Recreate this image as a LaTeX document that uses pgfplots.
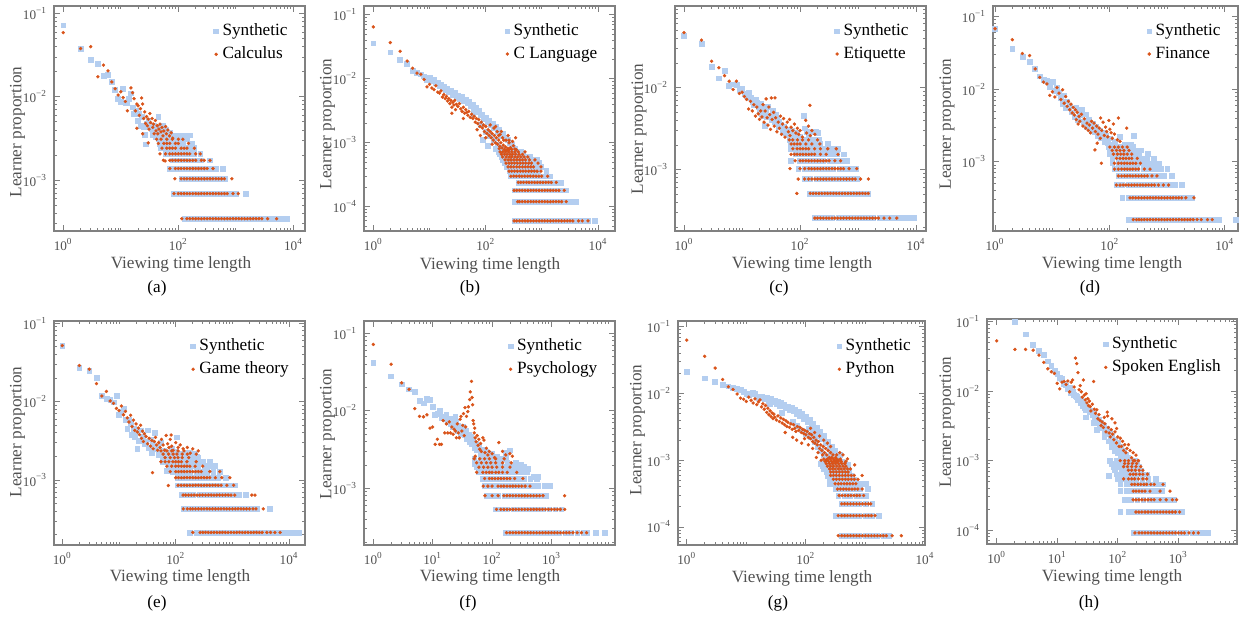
\documentclass[border=0pt]{standalone}
\usepackage{pgfplots}
\pgfplotsset{compat=1.18}
\usepackage{fontspec}
\setmainfont{Liberation Serif}
\definecolor{synblue}{RGB}{180,206,240}
\definecolor{realor}{RGB}{217,83,25}
\definecolor{labgray}{RGB}{80,80,80}
\newcommand{\tp}[1]{10\textsuperscript{#1}}
\newcommand{\tm}[1]{10\textsuperscript{−#1}}
\newcommand{\lf}{\fontsize{8.6}{10}\selectfont}
\pgfplotsset{scale only axis,
    axis line style={draw=black!50, line width=0.6pt},
    tick align=inside, tick style={black!50, line width=0.45pt},
    major tick length=3pt, minor tick length=1.5pt,
    tick label style={font=\fontsize{6.6}{7}\selectfont, text=labgray},
    minor xtick={2,3,4,5,6,7,8,9,10,20,30,40,50,60,70,80,90,200,300,400,500,600,700,800,900,1000,2000,3000,4000,5000,6000,7000,8000,9000},
    minor ytick={2e-5,3e-5,4e-5,5e-5,6e-5,7e-5,8e-5,9e-5,2e-4,3e-4,4e-4,5e-4,6e-4,7e-4,8e-4,9e-4,2e-3,3e-3,4e-3,5e-3,6e-3,7e-3,8e-3,9e-3,2e-2,3e-2,4e-2,5e-2,6e-2,7e-2,8e-2,9e-2},
    legend style={draw=none, fill=none, font=\lf, anchor=north east, inner sep=0pt, row sep=0pt},
    legend cell align=left,
    legend image post style={xshift=-3pt},
    syn/.style={only marks, mark=square*, color=synblue, mark size=1.2pt, mark options={line width=0.3pt}},
    realpts/.style={only marks, mark=*, color=realor, mark size=0.75pt, mark options={line width=0.2pt}},
}
\begin{document}
\begin{tikzpicture}[x=0.5pt, y=-0.5pt]
\path[use as bounding box] (0,0) rectangle (1242,619);
%% (a)
\begin{axis}[xmode=log, ymode=log, anchor=north west, at={(27pt,-3pt)}, width=125.5pt, height=112.5pt,
  xmin=0.692, xmax=15849, ymin=2.455e-4, ymax=0.123,
  xtick={1,100,10000}, xticklabels={\tp{0},\tp{2},\tp{4}},
  ytick={1e-3,1e-2,1e-1}, yticklabels={\tm{3},\tm{2},\tm{1}},
  legend style={at={(0.948,0.94)}}]
\addplot[syn] coordinates {(1,0.072)(2,0.038)(3,0.028)(4,0.025)(5,0.018)(6,0.0185)(7,0.015)(8,0.0122)(9,0.0095)(10,0.0088)(11,0.0125)(12,0.0085)(13,0.0085)(14,0.0095)(15,0.011)(16,0.0075)(17,0.0062)(18,0.0068)(20,0.0052)(21,0.0062)(22,0.0045)(23,0.0058)(25,0.0043)(26,0.0035)(27,0.0027)(28,0.0048)(30,0.0052)(32,0.0043)(34,0.0041)(36,0.0035)(38,0.0045)(40,0.0033)(42,0.0038)(45,0.0058)(48,0.0043)(52,0.0037)(55,0.0045)(58,0.0033)(62,0.004)(65,0.0035)(70,0.0037)(75,0.0031)
(130,3.45e-4)(158,3.45e-4)(200,3.45e-4)(251,3.45e-4)(316,3.45e-4)(398,3.45e-4)(501,3.45e-4)(631,3.45e-4)(794,3.45e-4)(1000,3.45e-4)(1259,3.45e-4)(1585,3.45e-4)(1995,3.45e-4)(2512,3.45e-4)(3162,3.45e-4)(3981,3.45e-4)(5012,3.45e-4)(6310,3.45e-4)(7600,3.45e-4)
(82,6.9e-4)(100,6.9e-4)(126,6.9e-4)(158,6.9e-4)(200,6.9e-4)(251,6.9e-4)(316,6.9e-4)(398,6.9e-4)(501,6.9e-4)(631,6.9e-4)(794,6.9e-4)(1000,6.9e-4)(1500,6.9e-4)
(115,1.04e-3)(141,1.04e-3)(178,1.04e-3)(224,1.04e-3)(282,1.04e-3)(355,1.04e-3)(447,1.04e-3)(562,1.04e-3)(650,1.04e-3)
(71,1.38e-3)(89,1.38e-3)(112,1.38e-3)(141,1.38e-3)(178,1.38e-3)(224,1.38e-3)(282,1.38e-3)(355,1.38e-3)(447,1.38e-3)(590,1.38e-3)
(80,1.73e-3)(100,1.73e-3)(126,1.73e-3)(158,1.73e-3)(200,1.73e-3)(251,1.73e-3)(355,1.73e-3)
(60,2.07e-3)(75,2.07e-3)(95,2.07e-3)(120,2.07e-3)(150,2.07e-3)(190,2.07e-3)(240,2.07e-3)
(50,2.42e-3)(63,2.42e-3)(80,2.42e-3)(100,2.42e-3)(126,2.42e-3)(160,2.42e-3)(190,2.42e-3)
(48,2.76e-3)(60,2.76e-3)(75,2.76e-3)(95,2.76e-3)(120,2.76e-3)(170,2.76e-3)
(45,3.1e-3)(57,3.1e-3)(72,3.1e-3)(90,3.1e-3)(115,3.1e-3)(140,3.1e-3)
(50,3.45e-3)(63,3.45e-3)(80,3.45e-3)(100,3.45e-3)(126,3.45e-3)(158,3.45e-3)};
\addlegendentry{Synthetic}
\addplot[realpts] coordinates {(1,0.059)(2,0.038)(3,0.040)(4,0.0174)(5,0.024)(6,0.0205)(7,0.0151)(8,0.0125)(9,0.0105)(10,0.0115)(11,0.0098)(12,0.0088)(13,0.0068)(15,0.0128)(16,0.0112)(17,0.0095)(18,0.0068)(19,0.0082)(20,0.0078)(21,0.006)(22,0.0072)(23,0.0097)(24,0.0082)(25,0.0055)(26,0.0066)(27,0.0048)(28,0.0058)(29,0.0045)(30,0.0054)(31,0.0041)(32,0.0063)(33,0.0049)(35,0.0055)(36,0.0043)(37,0.0047)(38,0.0036)(40,0.0052)(41,0.0039)(43,0.0045)(44,0.0036)(46,0.0041)(48,0.0047)(50,0.0038)(52,0.0043)(54,0.0034)(56,0.0039)(60,0.0044)(62,0.0036)(66,0.0040)(70,0.0034)(75,0.0037)(80,0.0032)(59,0.0017)(19,0.0042)(24,0.0036)(30,0.0028)
(115,3.45e-4)(141,3.45e-4)(158,3.45e-4)(178,3.45e-4)(200,3.45e-4)(224,3.45e-4)(251,3.45e-4)(282,3.45e-4)(316,3.45e-4)(355,3.45e-4)(398,3.45e-4)(447,3.45e-4)(501,3.45e-4)(562,3.45e-4)(631,3.45e-4)(708,3.45e-4)(794,3.45e-4)(891,3.45e-4)(1000,3.45e-4)(1122,3.45e-4)(1259,3.45e-4)(1413,3.45e-4)(1585,3.45e-4)(1778,3.45e-4)(1995,3.45e-4)(2239,3.45e-4)(2512,3.45e-4)(2818,3.45e-4)(3548,3.45e-4)(5100,3.45e-4)
(84,6.9e-4)(100,6.9e-4)(112,6.9e-4)(126,6.9e-4)(141,6.9e-4)(158,6.9e-4)(178,6.9e-4)(200,6.9e-4)(224,6.9e-4)(251,6.9e-4)(282,6.9e-4)(316,6.9e-4)(355,6.9e-4)(398,6.9e-4)(447,6.9e-4)(501,6.9e-4)(562,6.9e-4)(631,6.9e-4)(708,6.9e-4)(891,6.9e-4)(1100,6.9e-4)
(87,1.04e-3)(112,1.04e-3)(126,1.04e-3)(141,1.04e-3)(158,1.04e-3)(178,1.04e-3)(200,1.04e-3)(224,1.04e-3)(251,1.04e-3)(282,1.04e-3)(316,1.04e-3)(355,1.04e-3)(398,1.04e-3)(447,1.04e-3)(501,1.04e-3)(562,1.04e-3)(631,1.04e-3)(850,1.04e-3)
(71,1.38e-3)(89,1.38e-3)(100,1.38e-3)(112,1.38e-3)(126,1.38e-3)(141,1.38e-3)(158,1.38e-3)(178,1.38e-3)(200,1.38e-3)(224,1.38e-3)(251,1.38e-3)(282,1.38e-3)(316,1.38e-3)(400,1.38e-3)
(55,1.73e-3)(71,1.73e-3)(79,1.73e-3)(89,1.73e-3)(100,1.73e-3)(112,1.73e-3)(126,1.73e-3)(141,1.73e-3)(158,1.73e-3)(178,1.73e-3)(200,1.73e-3)(251,1.73e-3)(282,1.73e-3)(355,1.73e-3)
(48,2.07e-3)(60,2.07e-3)(71,2.07e-3)(79,2.07e-3)(89,2.07e-3)(100,2.07e-3)(112,2.07e-3)(126,2.07e-3)(141,2.07e-3)(158,2.07e-3)(200,2.07e-3)(240,2.07e-3)
(52,2.42e-3)(63,2.42e-3)(71,2.42e-3)(79,2.42e-3)(89,2.42e-3)(112,2.42e-3)(126,2.42e-3)(141,2.42e-3)(190,2.42e-3)
(45,2.76e-3)(56,2.76e-3)(63,2.76e-3)(71,2.76e-3)(89,2.76e-3)(100,2.76e-3)(150,2.76e-3)
(42,3.1e-3)(50,3.1e-3)(63,3.1e-3)(79,3.1e-3)(100,3.1e-3)(120,3.1e-3)};
\addlegendentry{Calculus}
\end{axis}
%% (b)
\begin{axis}[xmode=log, ymode=log, anchor=north west, at={(182pt,-3pt)}, width=125.5pt, height=112.5pt,
  xmin=0.682, xmax=19953, ymin=4.17e-5, ymax=0.138,
  xtick={1,100,10000}, xticklabels={\tp{0},\tp{2},\tp{4}},
  ytick={1e-4,1e-3,1e-2,1e-1}, yticklabels={\tm{4},\tm{3},\tm{2},\tm{1}},
  legend style={at={(0.947,0.94)}}]
\addplot[syn] coordinates {(1,0.036)(2,0.026)(3,0.020)(4,0.017)(5,0.0135)(6,0.0125)(7,0.0118)(8,0.011)(9,0.0098)(10,0.0105)(11,0.0092)(12,0.0097)(13,0.0085)(14,0.0088)(15,0.0079)(16,0.0082)(17,0.0073)(18,0.0076)(19,0.0068)(20,0.0071)(22,0.0063)(24,0.0066)(26,0.0056)(28,0.0060)(30,0.0052)(32,0.0055)(35,0.0049)(38,0.0052)(41,0.0045)(44,0.0048)(47,0.0042)(50,0.0044)(54,0.0038)(58,0.0040)(62,0.0034)(66,0.0036)(71,0.0030)(76,0.0032)(81,0.0027)(87,0.0028)(93,0.0024)(100,0.0025)(107,0.0021)(115,0.0022)(123,0.0019)(132,0.0020)(141,0.0017)(151,0.0018)(162,0.0015)(174,0.0016)(186,0.0013)(200,0.0014)(215,0.0012)(230,0.0012)(250,0.0011)(270,0.0010)(290,9.5e-4)(310,8.5e-4)(335,8.0e-4)(360,7.2e-4)(390,6.6e-4)(420,6.0e-4)(100,0.0015)(120,0.0013)(140,0.0011)(160,9.5e-4)(180,8.5e-4)(200,7.8e-4)(230,7.0e-4)(260,6.4e-4)(80,0.0019)(60,0.0028)(90,0.0011)(110,9e-4)(150,8e-4)
(330,6e-5)(420,6e-5)(530,6e-5)(670,6e-5)(840,6e-5)(1060,6e-5)(1330,6e-5)(1680,6e-5)(2110,6e-5)(2660,6e-5)(3350,6e-5)(4220,6e-5)(5310,6e-5)(6690,6e-5)(8700,6e-5)
(330,1.2e-4)(410,1.2e-4)(520,1.2e-4)(650,1.2e-4)(820,1.2e-4)(1030,1.2e-4)(1300,1.2e-4)(1640,1.2e-4)(2060,1.2e-4)(2600,1.2e-4)(3270,1.2e-4)(4100,1.2e-4)
(330,1.8e-4)(420,1.8e-4)(530,1.8e-4)(670,1.8e-4)(840,1.8e-4)(1060,1.8e-4)(1330,1.8e-4)(1680,1.8e-4)(2110,1.8e-4)(2660,1.8e-4)
(380,2.4e-4)(480,2.4e-4)(600,2.4e-4)(760,2.4e-4)(950,2.4e-4)(1200,2.4e-4)(1510,2.4e-4)(1900,2.4e-4)(2200,2.4e-4)
(280,3e-4)(350,3e-4)(440,3e-4)(560,3e-4)(700,3e-4)(880,3e-4)(1110,3e-4)(1400,3e-4)
(270,3.6e-4)(340,3.6e-4)(430,3.6e-4)(540,3.6e-4)(680,3.6e-4)(860,3.6e-4)(1200,3.6e-4)
(240,4.2e-4)(300,4.2e-4)(380,4.2e-4)(480,4.2e-4)(600,4.2e-4)(760,4.2e-4)(960,4.2e-4)
(220,4.8e-4)(280,4.8e-4)(350,4.8e-4)(440,4.8e-4)(560,4.8e-4)(700,4.8e-4)(900,4.8e-4)
(200,5.4e-4)(250,5.4e-4)(320,5.4e-4)(400,5.4e-4)(500,5.4e-4)(640,5.4e-4)(800,5.4e-4)
(190,6e-4)(240,6e-4)(300,6e-4)(380,6e-4)(480,6e-4)(600,6e-4)
(180,6.6e-4)(230,6.6e-4)(290,6.6e-4)(360,6.6e-4)(450,6.6e-4)
(170,7.2e-4)(215,7.2e-4)(270,7.2e-4)(340,7.2e-4)(430,7.2e-4)};
\addlegendentry{Synthetic}
\addplot[realpts] coordinates {(1,0.065)(2,0.037)(3,0.027)(4,0.019)(5,0.0147)(6,0.0123)(7,0.0118)(8,0.0098)(9,0.0075)(10,0.0082)(11,0.0072)(12,0.0068)(13,0.0078)(14,0.0062)(15,0.0060)(16,0.0065)(17,0.0052)(18,0.0057)(19,0.0049)(20,0.0053)(21,0.0045)(22,0.0049)(23,0.0041)(24,0.0046)(25,0.0036)(26,0.0043)(27,0.0039)(28,0.0046)(29,0.0033)(30,0.0040)(32,0.0037)(34,0.0041)(36,0.0034)(38,0.0031)(40,0.0036)(42,0.0029)(44,0.0033)(46,0.0030)(48,0.0027)(50,0.0031)(53,0.0025)(56,0.0028)(59,0.0024)(62,0.0026)(65,0.0021)(68,0.0024)(72,0.0020)(75,0.0023)(79,0.0018)(83,0.0021)(87,0.0017)(91,0.0019)(95,0.0015)(100,0.0018)(105,0.0014)(110,0.0016)(115,0.0013)(120,0.0015)(125,0.0012)(130,0.0014)(136,0.0011)(142,0.0013)(148,0.0010)(155,0.0012)(162,9.5e-4)(170,1.1e-3)(178,8.8e-4)(186,1.0e-3)(195,8.3e-4)(205,9.2e-4)(215,7.8e-4)(225,8.6e-4)(236,7.6e-4)(248,8.2e-4)(260,7.8e-4)(275,8.4e-4)(290,7.9e-4)(310,9.0e-4)(330,8.0e-4)(350,7.8e-4)(120,1.9e-3)(140,1.7e-3)(160,1.5e-3)(180,1.35e-3)(200,1.2e-3)(230,1.1e-3)(260,1.0e-3)(300,1.05e-3)(340,1.2e-3)(80,0.0013)(130,9.5e-4)(100,0.0012)(70,0.0016)(25,0.0029)(40,0.0024)(150,1.8e-3)(190,1.5e-3)(250,1.3e-3)(210,1.1e-3)(170,1.3e-3)(174,8.1e-4)(260,1.1e-3)
(320,6e-5)(355,6e-5)(398,6e-5)(447,6e-5)(501,6e-5)(562,6e-5)(631,6e-5)(708,6e-5)(794,6e-5)(891,6e-5)(1000,6e-5)(1122,6e-5)(1259,6e-5)(1413,6e-5)(1585,6e-5)(1778,6e-5)(1995,6e-5)(2239,6e-5)(2512,6e-5)(2818,6e-5)(3162,6e-5)(3548,6e-5)(4467,6e-5)(5200,6e-5)(6600,6e-5)
(370,1.2e-4)(398,1.2e-4)(447,1.2e-4)(501,1.2e-4)(562,1.2e-4)(631,1.2e-4)(708,1.2e-4)(794,1.2e-4)(891,1.2e-4)(1000,1.2e-4)(1122,1.2e-4)(1259,1.2e-4)(1413,1.2e-4)(1585,1.2e-4)(1778,1.2e-4)(1995,1.2e-4)(2239,1.2e-4)(2700,1.2e-4)
(320,1.8e-4)(355,1.8e-4)(398,1.8e-4)(447,1.8e-4)(501,1.8e-4)(562,1.8e-4)(631,1.8e-4)(708,1.8e-4)(794,1.8e-4)(891,1.8e-4)(1000,1.8e-4)(1122,1.8e-4)(1259,1.8e-4)(1413,1.8e-4)(1585,1.8e-4)(1778,1.8e-4)(2000,1.8e-4)(2500,1.8e-4)
(380,2.4e-4)(420,2.4e-4)(470,2.4e-4)(530,2.4e-4)(590,2.4e-4)(660,2.4e-4)(740,2.4e-4)(830,2.4e-4)(930,2.4e-4)(1040,2.4e-4)(1170,2.4e-4)(1310,2.4e-4)(1470,2.4e-4)(1800,2.4e-4)
(280,3e-4)(315,3e-4)(350,3e-4)(395,3e-4)(440,3e-4)(495,3e-4)(555,3e-4)(620,3e-4)(700,3e-4)(785,3e-4)(880,3e-4)(990,3e-4)(1260,3e-4)
(260,3.6e-4)(290,3.6e-4)(325,3.6e-4)(365,3.6e-4)(410,3.6e-4)(460,3.6e-4)(515,3.6e-4)(580,3.6e-4)(650,3.6e-4)(730,3.6e-4)(820,3.6e-4)(960,3.6e-4)
(250,4.2e-4)(280,4.2e-4)(315,4.2e-4)(355,4.2e-4)(400,4.2e-4)(450,4.2e-4)(505,4.2e-4)(565,4.2e-4)(635,4.2e-4)(710,4.2e-4)(960,4.2e-4)
(230,4.8e-4)(260,4.8e-4)(290,4.8e-4)(325,4.8e-4)(365,4.8e-4)(410,4.8e-4)(460,4.8e-4)(515,4.8e-4)(580,4.8e-4)(650,4.8e-4)(850,4.8e-4)
(220,5.4e-4)(250,5.4e-4)(280,5.4e-4)(315,5.4e-4)(355,5.4e-4)(400,5.4e-4)(450,5.4e-4)(510,5.4e-4)(600,5.4e-4)(750,5.4e-4)
(200,6e-4)(230,6e-4)(260,6e-4)(290,6e-4)(330,6e-4)(370,6e-4)(420,6e-4)(480,6e-4)(560,6e-4)
(190,6.6e-4)(215,6.6e-4)(240,6.6e-4)(270,6.6e-4)(300,6.6e-4)(340,6.6e-4)(390,6.6e-4)(450,6.6e-4)
(180,7.2e-4)(200,7.2e-4)(225,7.2e-4)(255,7.2e-4)(290,7.2e-4)(330,7.2e-4)(380,7.2e-4)(500,7.2e-4)};
\addlegendentry{C Language}
\end{axis}
%% (c)
\begin{axis}[xmode=log, ymode=log, anchor=north west, at={(337.5pt,-3pt)}, width=125.5pt, height=112.5pt,
  xmin=0.70, xmax=14791, ymin=1.79e-4, ymax=0.099,
  xtick={1,100,10000}, xticklabels={\tp{0},\tp{2},\tp{4}},
  ytick={1e-3,1e-2}, yticklabels={\tm{3},\tm{2}},
  legend style={at={(0.948,0.94)}}]
\addplot[syn] coordinates {(1,0.043)(2,0.034)(3,0.018)(4,0.013)(5,0.016)(6,0.0105)(7,0.011)(8,0.0108)(9,0.0095)(10,0.0098)(11,0.0085)(12,0.008)(13,0.0088)(14,0.0075)(15,0.0068)(16,0.0062)(17,0.0072)(18,0.0065)(19,0.0058)(20,0.0052)(21,0.0064)(22,0.0048)(23,0.0057)(24,0.0045)(25,0.0034)(26,0.0052)(27,0.0044)(28,0.0059)(30,0.0046)(32,0.0041)(34,0.0052)(36,0.0038)(38,0.0047)(40,0.0042)(42,0.0033)(44,0.0038)(47,0.0035)(50,0.0030)(53,0.0033)(56,0.0028)(60,0.0031)(64,0.0027)(68,0.0024)(72,0.0030)(77,0.0026)(82,0.0023)(88,0.0028)(94,0.0021)(100,0.0025)(108,0.0022)(115,0.0045)(120,0.0032)(130,0.0029)(140,0.0025)(160,0.0029)(185,0.0029)(200,0.0028)
(180,2.57e-4)(225,2.57e-4)(285,2.57e-4)(360,2.57e-4)(455,2.57e-4)(575,2.57e-4)(725,2.57e-4)(915,2.57e-4)(1150,2.57e-4)(1450,2.57e-4)(1830,2.57e-4)(2310,2.57e-4)(2920,2.57e-4)(3680,2.57e-4)(4650,2.57e-4)(5870,2.57e-4)(7400,2.57e-4)(9300,2.57e-4)
(147,5.14e-4)(185,5.14e-4)(235,5.14e-4)(295,5.14e-4)(372,5.14e-4)(470,5.14e-4)(590,5.14e-4)(745,5.14e-4)(940,5.14e-4)(1190,5.14e-4)(1500,5.14e-4)
(120,7.7e-4)(150,7.7e-4)(190,7.7e-4)(240,7.7e-4)(300,7.7e-4)(380,7.7e-4)(480,7.7e-4)(600,7.7e-4)(760,7.7e-4)(960,7.7e-4)
(93,1.03e-3)(118,1.03e-3)(148,1.03e-3)(187,1.03e-3)(236,1.03e-3)(298,1.03e-3)(375,1.03e-3)(473,1.03e-3)(596,1.03e-3)(750,1.03e-3)(900,1.03e-3)
(100,1.285e-3)(126,1.285e-3)(159,1.285e-3)(200,1.285e-3)(252,1.285e-3)(318,1.285e-3)(400,1.285e-3)(505,1.285e-3)(640,1.285e-3)(69,1.285e-3)
(84,1.54e-3)(106,1.54e-3)(133,1.54e-3)(168,1.54e-3)(212,1.54e-3)(267,1.54e-3)(337,1.54e-3)(425,1.54e-3)(560,1.54e-3)
(70,1.8e-3)(88,1.8e-3)(110,1.8e-3)(140,1.8e-3)(176,1.8e-3)(222,1.8e-3)(280,1.8e-3)(350,1.8e-3)(450,1.8e-3)
(70,2.06e-3)(88,2.06e-3)(110,2.06e-3)(140,2.06e-3)(176,2.06e-3)(222,2.06e-3)(300,2.06e-3)
(66,2.31e-3)(84,2.31e-3)(106,2.31e-3)(134,2.31e-3)(170,2.31e-3)(215,2.31e-3)};
\addlegendentry{Synthetic}
\addplot[realpts] coordinates {(1,0.047)(2,0.038)(3,0.021)(4,0.0175)(5,0.014)(6,0.012)(7,0.0095)(8,0.012)(9,0.0085)(10,0.0088)(11,0.0078)(12,0.0072)(13,0.0055)(14,0.0068)(15,0.0052)(16,0.0062)(17,0.0045)(18,0.0058)(19,0.0048)(20,0.0041)(21,0.0052)(22,0.0044)(23,0.0062)(24,0.0038)(25,0.0052)(26,0.0073)(27,0.0043)(28,0.0035)(29,0.0058)(30,0.0047)(31,0.0031)(32,0.0075)(33,0.0041)(35,0.0050)(36,0.0034)(37,0.0075)(38,0.0043)(40,0.0029)(42,0.0038)(44,0.0032)(46,0.0045)(48,0.0027)(50,0.0036)(52,0.0042)(55,0.0025)(58,0.0033)(60,0.0038)(63,0.0029)(66,0.0041)(67,0.0026)(70,0.0033)(75,0.0030)(80,0.0036)(85,0.0028)(90,0.0032)(95,0.0027)(100,0.0030)(110,0.0025)(125,0.0040)(130,0.0028)(140,0.0034)(148,0.0061)(150,0.0026)(160,0.0030)(180,0.0027)
(180,2.57e-4)(200,2.57e-4)(224,2.57e-4)(251,2.57e-4)(282,2.57e-4)(316,2.57e-4)(355,2.57e-4)(398,2.57e-4)(447,2.57e-4)(501,2.57e-4)(562,2.57e-4)(631,2.57e-4)(708,2.57e-4)(794,2.57e-4)(891,2.57e-4)(1000,2.57e-4)(1122,2.57e-4)(1259,2.57e-4)(1413,2.57e-4)(1585,2.57e-4)(1778,2.57e-4)(1995,2.57e-4)(2239,2.57e-4)(2800,2.57e-4)(3500,2.57e-4)(4650,2.57e-4)
(88,5.14e-4)(150,5.14e-4)(168,5.14e-4)(188,5.14e-4)(211,5.14e-4)(237,5.14e-4)(266,5.14e-4)(298,5.14e-4)(335,5.14e-4)(376,5.14e-4)(422,5.14e-4)(473,5.14e-4)(531,5.14e-4)(596,5.14e-4)(668,5.14e-4)(750,5.14e-4)(841,5.14e-4)(944,5.14e-4)(1060,5.14e-4)(1189,5.14e-4)(1334,5.14e-4)(1500,5.14e-4)
(93,7.7e-4)(120,7.7e-4)(140,7.7e-4)(160,7.7e-4)(180,7.7e-4)(200,7.7e-4)(224,7.7e-4)(251,7.7e-4)(282,7.7e-4)(316,7.7e-4)(355,7.7e-4)(398,7.7e-4)(447,7.7e-4)(501,7.7e-4)(562,7.7e-4)(631,7.7e-4)(708,7.7e-4)(794,7.7e-4)(891,7.7e-4)(1100,7.7e-4)(1500,7.7e-4)
(67,1.03e-3)(100,1.03e-3)(120,1.03e-3)(141,1.03e-3)(158,1.03e-3)(178,1.03e-3)(200,1.03e-3)(224,1.03e-3)(251,1.03e-3)(282,1.03e-3)(316,1.03e-3)(355,1.03e-3)(398,1.03e-3)(447,1.03e-3)(501,1.03e-3)(562,1.03e-3)(700,1.03e-3)(950,1.03e-3)
(82,1.285e-3)(100,1.285e-3)(112,1.285e-3)(126,1.285e-3)(141,1.285e-3)(158,1.285e-3)(178,1.285e-3)(200,1.285e-3)(224,1.285e-3)(251,1.285e-3)(282,1.285e-3)(316,1.285e-3)(398,1.285e-3)(500,1.285e-3)
(70,1.54e-3)(80,1.54e-3)(89,1.54e-3)(100,1.54e-3)(112,1.54e-3)(126,1.54e-3)(141,1.54e-3)(158,1.54e-3)(178,1.54e-3)(224,1.54e-3)(282,1.54e-3)(450,1.54e-3)
(75,1.8e-3)(89,1.8e-3)(100,1.8e-3)(112,1.8e-3)(126,1.8e-3)(141,1.8e-3)(178,1.8e-3)(224,1.8e-3)(300,1.8e-3)(420,1.8e-3)
(70,2.06e-3)(79,2.06e-3)(89,2.06e-3)(100,2.06e-3)(126,2.06e-3)(160,2.06e-3)(220,2.06e-3)
(65,2.31e-3)(75,2.31e-3)(90,2.31e-3)(110,2.31e-3)(140,2.31e-3)(200,2.31e-3)};
\addlegendentry{Etiquette}
\end{axis}
%% (d)
\begin{axis}[xmode=log, ymode=log, anchor=north west, at={(496.5pt,-3pt)}, width=122.5pt, height=112.5pt,
  xmin=0.923, xmax=16982, ymin=1.107e-4, ymax=0.140,
  xtick={1,100,10000}, xticklabels={\tp{0},\tp{2},\tp{4}},
  ytick={1e-3,1e-2,1e-1}, yticklabels={\tm{3},\tm{2},\tm{1}},
  legend style={at={(0.947,0.94)}}]
\addplot[syn] coordinates {(1,0.068)(2,0.036)(3,0.028)(4,0.024)(5,0.019)(6,0.015)(7,0.0135)(8,0.013)(9,0.0108)(10,0.0125)(11,0.0095)(12,0.0105)(13,0.0088)(14,0.0075)(15,0.0062)(16,0.0082)(17,0.0055)(18,0.0068)(20,0.0058)(22,0.0048)(24,0.0041)(26,0.0055)(28,0.0038)(30,0.0044)(32,0.0052)(35,0.0035)(38,0.0045)(40,0.0030)(43,0.0038)(46,0.0028)(50,0.0033)(54,0.0026)(58,0.0030)(62,0.0023)(66,0.0027)(70,0.0021)(75,0.0025)(80,0.0019)(86,0.0023)(92,0.0018)(100,0.0021)(110,0.0017)(120,0.0019)(150,0.0022)(180,0.0017)(200,0.0015)(230,0.0017)(260,0.0023)(290,0.0013)(330,0.0011)
(215,1.59e-4)(270,1.59e-4)(340,1.59e-4)(430,1.59e-4)(540,1.59e-4)(680,1.59e-4)(860,1.59e-4)(1080,1.59e-4)(1360,1.59e-4)(1710,1.59e-4)(2160,1.59e-4)(2720,1.59e-4)(3420,1.59e-4)(4310,1.59e-4)(5430,1.59e-4)(6840,1.59e-4)(8000,1.59e-4)(15600,1.59e-4)
(165,3.17e-4)(210,3.17e-4)(265,3.17e-4)(335,3.17e-4)(420,3.17e-4)(530,3.17e-4)(670,3.17e-4)(840,3.17e-4)(1060,3.17e-4)(1340,3.17e-4)(1680,3.17e-4)(2120,3.17e-4)(2700,3.17e-4)
(130,4.76e-4)(165,4.76e-4)(210,4.76e-4)(265,4.76e-4)(335,4.76e-4)(420,4.76e-4)(530,4.76e-4)(670,4.76e-4)(840,4.76e-4)(1060,4.76e-4)(1340,4.76e-4)(1800,4.76e-4)
(140,6.35e-4)(175,6.35e-4)(220,6.35e-4)(280,6.35e-4)(350,6.35e-4)(440,6.35e-4)(560,6.35e-4)(700,6.35e-4)(880,6.35e-4)(1200,6.35e-4)
(120,7.9e-4)(150,7.9e-4)(190,7.9e-4)(240,7.9e-4)(300,7.9e-4)(380,7.9e-4)(480,7.9e-4)(600,7.9e-4)(760,7.9e-4)(1000,7.9e-4)
(110,9.5e-4)(140,9.5e-4)(175,9.5e-4)(220,9.5e-4)(280,9.5e-4)(350,9.5e-4)(440,9.5e-4)(560,9.5e-4)(700,9.5e-4)
(110,1.11e-3)(140,1.11e-3)(175,1.11e-3)(220,1.11e-3)(280,1.11e-3)(350,1.11e-3)(440,1.11e-3)(580,1.11e-3)
(100,1.27e-3)(126,1.27e-3)(160,1.27e-3)(200,1.27e-3)(250,1.27e-3)(320,1.27e-3)(450,1.27e-3)
(100,1.43e-3)(130,1.43e-3)(165,1.43e-3)(210,1.43e-3)(270,1.43e-3)(340,1.43e-3)
(95,1.59e-3)(120,1.59e-3)(150,1.59e-3)(190,1.59e-3)(250,1.59e-3)};
\addlegendentry{Synthetic}
\addplot[realpts] coordinates {(1,0.068)(2,0.048)(3,0.031)(4,0.029)(5,0.019)(6,0.0145)(7,0.0125)(8,0.0118)(9,0.0082)(10,0.0092)(11,0.0078)(12,0.0105)(13,0.0088)(14,0.0072)(15,0.0098)(16,0.0064)(17,0.0079)(18,0.0058)(19,0.0068)(20,0.0052)(21,0.0062)(22,0.0047)(23,0.0056)(24,0.0044)(25,0.0052)(26,0.0038)(27,0.0048)(28,0.0033)(29,0.0042)(30,0.0036)(32,0.0045)(34,0.0031)(36,0.0039)(38,0.0029)(40,0.0034)(42,0.0027)(44,0.0032)(46,0.0025)(48,0.0036)(50,0.0029)(53,0.0034)(56,0.0026)(59,0.0031)(62,0.0024)(65,0.0029)(68,0.0021)(69,0.0040)(72,0.0027)(76,0.0035)(80,0.0023)(84,0.0030)(88,0.0026)(92,0.0022)(96,0.0037)(100,0.0028)(105,0.0025)(110,0.0021)(115,0.0033)(120,0.0024)(135,0.0020)(140,0.0040)(150,0.0019)(196,0.0029)(55,0.00145)(71,9.5e-4)(60,0.0018)
(256,1.59e-4)(290,1.59e-4)(320,1.59e-4)(355,1.59e-4)(398,1.59e-4)(447,1.59e-4)(501,1.59e-4)(562,1.59e-4)(631,1.59e-4)(708,1.59e-4)(794,1.59e-4)(891,1.59e-4)(1000,1.59e-4)(1122,1.59e-4)(1259,1.59e-4)(1413,1.59e-4)(1585,1.59e-4)(1778,1.59e-4)(1995,1.59e-4)(2239,1.59e-4)(2512,1.59e-4)(2818,1.59e-4)(3300,1.59e-4)(3900,1.59e-4)(5000,1.59e-4)(6040,1.59e-4)
(224,3.17e-4)(251,3.17e-4)(282,3.17e-4)(316,3.17e-4)(355,3.17e-4)(398,3.17e-4)(447,3.17e-4)(501,3.17e-4)(562,3.17e-4)(631,3.17e-4)(708,3.17e-4)(794,3.17e-4)(891,3.17e-4)(1000,3.17e-4)(1122,3.17e-4)(1259,3.17e-4)(1413,3.17e-4)(1585,3.17e-4)(1778,3.17e-4)(2100,3.17e-4)(2900,3.17e-4)
(130,4.76e-4)(150,4.76e-4)(170,4.76e-4)(190,4.76e-4)(212,4.76e-4)(238,4.76e-4)(266,4.76e-4)(298,4.76e-4)(335,4.76e-4)(376,4.76e-4)(422,4.76e-4)(473,4.76e-4)(531,4.76e-4)(596,4.76e-4)(700,4.76e-4)(850,4.76e-4)(1050,4.76e-4)
(140,6.35e-4)(160,6.35e-4)(180,6.35e-4)(200,6.35e-4)(224,6.35e-4)(251,6.35e-4)(282,6.35e-4)(316,6.35e-4)(355,6.35e-4)(398,6.35e-4)(447,6.35e-4)(540,6.35e-4)(660,6.35e-4)
(120,7.9e-4)(140,7.9e-4)(160,7.9e-4)(180,7.9e-4)(200,7.9e-4)(224,7.9e-4)(251,7.9e-4)(282,7.9e-4)(316,7.9e-4)(398,7.9e-4)(500,7.9e-4)
(120,9.5e-4)(140,9.5e-4)(158,9.5e-4)(178,9.5e-4)(200,9.5e-4)(224,9.5e-4)(251,9.5e-4)(282,9.5e-4)(340,9.5e-4)
(130,1.11e-3)(150,1.11e-3)(170,1.11e-3)(190,1.11e-3)(215,1.11e-3)(240,1.11e-3)(300,1.11e-3)
(115,1.27e-3)(135,1.27e-3)(155,1.27e-3)(175,1.27e-3)(200,1.27e-3)(240,1.27e-3)
(110,1.43e-3)(130,1.43e-3)(150,1.43e-3)(175,1.43e-3)(215,1.43e-3)
(100,1.59e-3)(120,1.59e-3)(140,1.59e-3)(165,1.59e-3)(200,1.59e-3)};
\addlegendentry{Finance}
\end{axis}
%% (e)
\begin{axis}[xmode=log, ymode=log, anchor=north west, at={(27pt,-160.5pt)}, width=125.5pt, height=112pt,
  xmin=0.714, xmax=19055, ymin=1.48e-4, ymax=0.107,
  xtick={1,100,10000}, xticklabels={\tp{0},\tp{2},\tp{4}},
  ytick={1e-3,1e-2,1e-1}, yticklabels={\tm{3},\tm{2},\tm{1}},
  legend style={at={(0.953,0.94)}}]
\addplot[syn] coordinates {(1,0.052)(2,0.027)(3,0.025)(4,0.020)(5,0.012)(6,0.011)(7,0.0105)(8,0.0098)(9,0.012)(10,0.0068)(11,0.0075)(12,0.0082)(13,0.0058)(14,0.0045)(15,0.0058)(16,0.0052)(17,0.0038)(18,0.0045)(19,0.0036)(20,0.0041)(21,0.0025)(22,0.0032)(24,0.0043)(26,0.0036)(28,0.0029)(30,0.0031)(32,0.0043)(34,0.0026)(36,0.0033)(38,0.0022)(40,0.0029)(43,0.0040)(46,0.0025)(50,0.0021)(54,0.0030)(58,0.0017)(62,0.0024)(66,0.0019)(70,0.0013)(75,0.0022)(80,0.0018)(86,0.0025)(92,0.0019)(100,0.0023)(105,0.0035)(115,0.0017)(130,0.0020)(150,0.0018)(170,0.0022)(200,0.0017)(240,0.0020)(300,0.0017)(350,0.0013)(450,0.0015)
(180,2.14e-4)(230,2.14e-4)(290,2.14e-4)(365,2.14e-4)(460,2.14e-4)(580,2.14e-4)(730,2.14e-4)(920,2.14e-4)(1160,2.14e-4)(1460,2.14e-4)(1840,2.14e-4)(2320,2.14e-4)(2920,2.14e-4)(3680,2.14e-4)(4630,2.14e-4)(5840,2.14e-4)(7350,2.14e-4)(9260,2.14e-4)(11700,2.14e-4)(14700,2.14e-4)
(136,4.28e-4)(170,4.28e-4)(215,4.28e-4)(270,4.28e-4)(340,4.28e-4)(430,4.28e-4)(540,4.28e-4)(680,4.28e-4)(860,4.28e-4)(1080,4.28e-4)(1360,4.28e-4)(1720,4.28e-4)(2160,4.28e-4)(2720,4.28e-4)(4600,4.28e-4)
(130,6.42e-4)(165,6.42e-4)(205,6.42e-4)(260,6.42e-4)(330,6.42e-4)(410,6.42e-4)(520,6.42e-4)(650,6.42e-4)(820,6.42e-4)(1030,6.42e-4)(1300,6.42e-4)(1700,6.42e-4)
(110,8.56e-4)(140,8.56e-4)(175,8.56e-4)(220,8.56e-4)(280,8.56e-4)(350,8.56e-4)(440,8.56e-4)(560,8.56e-4)(700,8.56e-4)(880,8.56e-4)(1100,8.56e-4)
(110,1.07e-3)(140,1.07e-3)(175,1.07e-3)(220,1.07e-3)(280,1.07e-3)(350,1.07e-3)(440,1.07e-3)(560,1.07e-3)(760,1.07e-3)
(90,1.28e-3)(115,1.28e-3)(145,1.28e-3)(180,1.28e-3)(230,1.28e-3)(290,1.28e-3)(360,1.28e-3)(460,1.28e-3)(600,1.28e-3)
(80,1.5e-3)(100,1.5e-3)(126,1.5e-3)(160,1.5e-3)(200,1.5e-3)(250,1.5e-3)(320,1.5e-3)(400,1.5e-3)(500,1.5e-3)
(60,1.71e-3)(76,1.71e-3)(96,1.71e-3)(120,1.71e-3)(150,1.71e-3)(190,1.71e-3)(240,1.71e-3)(300,1.71e-3)(400,1.71e-3)
(60,1.93e-3)(76,1.93e-3)(96,1.93e-3)(120,1.93e-3)(150,1.93e-3)(190,1.93e-3)(250,1.93e-3)
(55,2.14e-3)(70,2.14e-3)(88,2.14e-3)(110,2.14e-3)(140,2.14e-3)(175,2.14e-3)(220,2.14e-3)};
\addlegendentry{Synthetic}
\addplot[realpts] coordinates {(1,0.052)(2,0.029)(3,0.026)(4,0.017)(5,0.0118)(6,0.0135)(7,0.0102)(8,0.0095)(9,0.0082)(10,0.0077)(11,0.0088)(12,0.0068)(13,0.0075)(14,0.0062)(15,0.0055)(16,0.0067)(17,0.0048)(18,0.0058)(19,0.0043)(20,0.0052)(21,0.0041)(22,0.0046)(23,0.0038)(24,0.0050)(25,0.0034)(26,0.0042)(27,0.0031)(28,0.0039)(30,0.0036)(32,0.0029)(34,0.0034)(36,0.0027)(38,0.0032)(39,0.00124)(40,0.0025)(42,0.0031)(44,0.0035)(46,0.0028)(48,0.0024)(50,0.0030)(53,0.0026)(56,0.0033)(60,0.0028)(64,0.0024)(68,0.0037)(72,0.0029)(74,8.5e-4)(76,0.0026)(80,0.0033)(83,0.00375)(85,0.0027)(90,0.0024)(100,0.0030)(110,0.0026)(120,0.0028)(135,0.0025)(160,0.0026)(180,0.0022)(200,0.0025)
(200,2.14e-4)(270,2.14e-4)(300,2.14e-4)(335,2.14e-4)(376,2.14e-4)(422,2.14e-4)(473,2.14e-4)(531,2.14e-4)(596,2.14e-4)(668,2.14e-4)(750,2.14e-4)(841,2.14e-4)(944,2.14e-4)(1060,2.14e-4)(1189,2.14e-4)(1334,2.14e-4)(1497,2.14e-4)(1680,2.14e-4)(1884,2.14e-4)(2114,2.14e-4)(2372,2.14e-4)(2661,2.14e-4)(2985,2.14e-4)(3350,2.14e-4)(4040,2.14e-4)(4700,2.14e-4)(5600,2.14e-4)(6950,2.14e-4)
(136,4.28e-4)(160,4.28e-4)(180,4.28e-4)(200,4.28e-4)(224,4.28e-4)(251,4.28e-4)(282,4.28e-4)(316,4.28e-4)(355,4.28e-4)(398,4.28e-4)(447,4.28e-4)(501,4.28e-4)(562,4.28e-4)(631,4.28e-4)(708,4.28e-4)(794,4.28e-4)(891,4.28e-4)(1000,4.28e-4)(1122,4.28e-4)(1259,4.28e-4)(1413,4.28e-4)(1585,4.28e-4)(1778,4.28e-4)(1995,4.28e-4)(2300,4.28e-4)(2600,4.28e-4)(3500,4.28e-4)
(135,6.42e-4)(150,6.42e-4)(168,6.42e-4)(188,6.42e-4)(211,6.42e-4)(237,6.42e-4)(266,6.42e-4)(298,6.42e-4)(335,6.42e-4)(376,6.42e-4)(422,6.42e-4)(473,6.42e-4)(531,6.42e-4)(596,6.42e-4)(668,6.42e-4)(750,6.42e-4)(841,6.42e-4)(944,6.42e-4)(1100,6.42e-4)(2200,6.42e-4)(2500,6.42e-4)
(110,8.56e-4)(125,8.56e-4)(141,8.56e-4)(158,8.56e-4)(178,8.56e-4)(200,8.56e-4)(224,8.56e-4)(251,8.56e-4)(282,8.56e-4)(316,8.56e-4)(355,8.56e-4)(398,8.56e-4)(447,8.56e-4)(501,8.56e-4)(562,8.56e-4)(631,8.56e-4)(800,8.56e-4)(1050,8.56e-4)
(100,1.07e-3)(112,1.07e-3)(126,1.07e-3)(141,1.07e-3)(158,1.07e-3)(178,1.07e-3)(200,1.07e-3)(224,1.07e-3)(251,1.07e-3)(282,1.07e-3)(316,1.07e-3)(355,1.07e-3)(398,1.07e-3)(500,1.07e-3)(650,1.07e-3)(900,1.07e-3)
(80,1.28e-3)(100,1.28e-3)(112,1.28e-3)(126,1.28e-3)(141,1.28e-3)(158,1.28e-3)(178,1.28e-3)(200,1.28e-3)(224,1.28e-3)(251,1.28e-3)(282,1.28e-3)(400,1.28e-3)(600,1.28e-3)
(70,1.5e-3)(85,1.5e-3)(100,1.5e-3)(112,1.5e-3)(126,1.5e-3)(141,1.5e-3)(158,1.5e-3)(178,1.5e-3)(220,1.5e-3)(300,1.5e-3)
(55,1.71e-3)(65,1.71e-3)(76,1.71e-3)(89,1.71e-3)(100,1.71e-3)(112,1.71e-3)(126,1.71e-3)(158,1.71e-3)(230,1.71e-3)
(65,1.93e-3)(80,1.93e-3)(95,1.93e-3)(110,1.93e-3)(130,1.93e-3)(170,1.93e-3)
(60,2.14e-3)(75,2.14e-3)(90,2.14e-3)(105,2.14e-3)(130,2.14e-3)(160,2.14e-3)(230,2.14e-3)
(55,2.35e-3)(70,2.35e-3)(85,2.35e-3)(110,2.35e-3)(140,2.35e-3)(250,2.35e-3)};
\addlegendentry{Game theory}
\end{axis}
%% (f)
\begin{axis}[xmode=log, ymode=log, anchor=north west, at={(182pt,-160.5pt)}, width=125.5pt, height=112pt,
  xmin=0.697, xmax=11749, ymin=1.86e-4, ymax=0.1445,
  xtick={1,10,100,1000}, xticklabels={\tp{0},\tp{1},\tp{2},\tp{3}},
  ytick={1e-3,1e-2,1e-1}, yticklabels={\tm{3},\tm{2},\tm{1}},
  legend style={at={(0.947,0.94)}}]
\addplot[syn] coordinates {(1,0.042)(2,0.028)(3,0.022)(4,0.019)(5,0.0175)(6,0.0135)(7,0.0125)(8,0.0145)(9,0.0140)(10,0.0113)(11,0.0088)(12,0.0092)(13,0.010)(14,0.0082)(15,0.0085)(16,0.0078)(17,0.0088)(18,0.0072)(19,0.0075)(20,0.0068)(21,0.0080)(22,0.0062)(24,0.0085)(25,0.0072)(26,0.0055)(27,0.0065)(28,0.0058)(30,0.0051)(32,0.0062)(34,0.0049)(36,0.0055)(38,0.0044)(40,0.0050)(42,0.0040)(44,0.0046)(46,0.0037)(48,0.0043)(50,0.0033)(53,0.0038)(56,0.0031)(60,0.0035)(65,0.0029)(70,0.0032)(50,0.0021)(75,0.0027)(80,0.0030)(90,0.0025)(100,0.0028)(120,0.0026)(150,0.0024)(170,0.0029)(200,0.0031)(250,0.0018)(300,0.0020)(400,0.0018)(500,0.0014)(600,0.0014)
(170,2.68e-4)(215,2.68e-4)(270,2.68e-4)(340,2.68e-4)(430,2.68e-4)(540,2.68e-4)(680,2.68e-4)(860,2.68e-4)(1080,2.68e-4)(1360,2.68e-4)(1720,2.68e-4)(2160,2.68e-4)(2720,2.68e-4)(3430,2.68e-4)(3900,2.68e-4)(5500,2.68e-4)(7800,2.68e-4)
(115,5.36e-4)(145,5.36e-4)(180,5.36e-4)(230,5.36e-4)(290,5.36e-4)(365,5.36e-4)(460,5.36e-4)(580,5.36e-4)(730,5.36e-4)(920,5.36e-4)(1160,5.36e-4)(1460,5.36e-4)
(80,8.04e-4)(100,8.04e-4)(126,8.04e-4)(160,8.04e-4)(200,8.04e-4)(250,8.04e-4)(320,8.04e-4)(400,8.04e-4)(500,8.04e-4)(630,8.04e-4)(800,8.04e-4)
(75,1.07e-3)(95,1.07e-3)(120,1.07e-3)(150,1.07e-3)(190,1.07e-3)(240,1.07e-3)(300,1.07e-3)(380,1.07e-3)(480,1.07e-3)(600,1.07e-3)(760,1.07e-3)(930,1.07e-3)
(70,1.34e-3)(88,1.34e-3)(110,1.34e-3)(140,1.34e-3)(176,1.34e-3)(222,1.34e-3)(280,1.34e-3)(350,1.34e-3)(440,1.34e-3)(560,1.34e-3)
(60,1.61e-3)(76,1.61e-3)(96,1.61e-3)(120,1.61e-3)(150,1.61e-3)(190,1.61e-3)(240,1.61e-3)(300,1.61e-3)(380,1.61e-3)
(55,1.88e-3)(70,1.88e-3)(88,1.88e-3)(110,1.88e-3)(140,1.88e-3)(176,1.88e-3)(222,1.88e-3)(280,1.88e-3)(350,1.88e-3)
(55,2.14e-3)(70,2.14e-3)(88,2.14e-3)(110,2.14e-3)(140,2.14e-3)(180,2.14e-3)(250,2.14e-3)
(50,2.41e-3)(64,2.41e-3)(80,2.41e-3)(100,2.41e-3)(130,2.41e-3)(170,2.41e-3)};
\addlegendentry{Synthetic}
\addplot[realpts] coordinates {(1,0.072)(2,0.040)(3,0.023)(4,0.019)(5,0.0107)(6,0.0085)(7,0.0084)(8,0.0089)(9,0.0060)(10,0.0062)(11,0.0037)(12,0.0043)(13,0.0037)(14,0.0037)(15,0.0075)(16,0.0052)(17,0.0068)(18,0.0052)(19,0.0072)(20,0.0052)(21,0.0062)(22,0.0050)(23,0.0058)(24,0.0055)(25,0.0045)(26,0.0068)(27,0.0052)(28,0.0045)(29,0.0078)(30,0.0085)(31,0.0055)(32,0.0065)(33,0.0092)(34,0.0048)(35,0.0110)(36,0.0062)(37,0.0085)(39,0.0098)(40,0.0113)(42,0.0140)(43,0.0176)(45,0.0240)(46,0.0149)(47,0.0120)(48,0.0075)(49,0.0068)(50,0.0052)(51,0.0060)(52,0.0045)(54,0.0040)(56,0.0048)(58,0.0036)(60,0.0043)(62,0.0032)(64,0.0038)(66,0.0030)(70,0.0045)(73,0.0042)(76,0.0029)(80,0.0033)(85,0.0027)(90,0.0030)(100,0.0028)(110,0.0025)(130,0.0039)(150,0.0030)(170,0.0027)(200,0.0028)(220,0.0026)(52,0.0026)
(175,2.68e-4)(200,2.68e-4)(224,2.68e-4)(251,2.68e-4)(282,2.68e-4)(316,2.68e-4)(355,2.68e-4)(398,2.68e-4)(447,2.68e-4)(501,2.68e-4)(562,2.68e-4)(631,2.68e-4)(708,2.68e-4)(794,2.68e-4)(891,2.68e-4)(1000,2.68e-4)(1122,2.68e-4)(1259,2.68e-4)(1413,2.68e-4)(1585,2.68e-4)(1778,2.68e-4)(1995,2.68e-4)(2300,2.68e-4)(2700,2.68e-4)(3200,2.68e-4)(3900,2.68e-4)
(119,5.36e-4)(140,5.36e-4)(158,5.36e-4)(178,5.36e-4)(200,5.36e-4)(224,5.36e-4)(251,5.36e-4)(282,5.36e-4)(316,5.36e-4)(355,5.36e-4)(398,5.36e-4)(447,5.36e-4)(501,5.36e-4)(562,5.36e-4)(631,5.36e-4)(708,5.36e-4)(794,5.36e-4)(891,5.36e-4)(1000,5.36e-4)(1122,5.36e-4)(1259,5.36e-4)(1413,5.36e-4)(1670,5.36e-4)
(76,8.04e-4)(100,8.04e-4)(126,8.04e-4)(158,8.04e-4)(178,8.04e-4)(200,8.04e-4)(224,8.04e-4)(251,8.04e-4)(282,8.04e-4)(316,8.04e-4)(355,8.04e-4)(398,8.04e-4)(447,8.04e-4)(501,8.04e-4)(562,8.04e-4)(631,8.04e-4)(720,8.04e-4)(1670,8.04e-4)
(71,1.07e-3)(85,1.07e-3)(100,1.07e-3)(126,1.07e-3)(141,1.07e-3)(158,1.07e-3)(178,1.07e-3)(200,1.07e-3)(224,1.07e-3)(251,1.07e-3)(282,1.07e-3)(316,1.07e-3)(360,1.07e-3)(435,1.07e-3)
(75,1.34e-3)(90,1.34e-3)(100,1.34e-3)(112,1.34e-3)(126,1.34e-3)(141,1.34e-3)(158,1.34e-3)(178,1.34e-3)(200,1.34e-3)(240,1.34e-3)(330,1.34e-3)
(55,1.61e-3)(70,1.61e-3)(80,1.61e-3)(90,1.61e-3)(100,1.61e-3)(115,1.61e-3)(130,1.61e-3)(150,1.61e-3)(180,1.61e-3)(260,1.61e-3)
(60,1.88e-3)(72,1.88e-3)(85,1.88e-3)(100,1.88e-3)(120,1.88e-3)(150,1.88e-3)(200,1.88e-3)
(55,2.14e-3)(66,2.14e-3)(80,2.14e-3)(95,2.14e-3)(115,2.14e-3)(150,2.14e-3)(210,2.14e-3)
(50,2.41e-3)(62,2.41e-3)(75,2.41e-3)(90,2.41e-3)(115,2.41e-3)(160,2.41e-3)};
\addlegendentry{Psychology}
\end{axis}
%% (g)
\begin{axis}[xmode=log, ymode=log, anchor=north west, at={(339pt,-160.5pt)}, width=123.5pt, height=112pt,
  xmin=0.713, xmax=10000, ymin=5.37e-5, ymax=0.1216,
  xtick={1,100,10000}, xticklabels={\tp{0},\tp{2},\tp{4}},
  ytick={1e-4,1e-3,1e-2,1e-1}, yticklabels={\tm{4},\tm{3},\tm{2},\tm{1}},
  legend style={at={(0.96,0.94)}}]
\addplot[syn] coordinates {(1,0.021)(2,0.0168)(3,0.015)(4,0.0135)(5,0.0128)(6,0.0122)(7,0.0118)(8,0.0112)(9,0.0105)(10,0.0100)(11,0.0094)(12,0.0100)(13,0.0104)(14,0.0098)(15,0.0090)(16,0.0086)(18,0.0088)(20,0.0082)(22,0.0086)(24,0.0078)(26,0.0082)(28,0.0074)(30,0.0078)(32,0.0070)(34,0.0074)(36,0.0066)(38,0.0072)(40,0.0064)(43,0.0068)(46,0.0060)(50,0.0064)(54,0.0057)(58,0.0062)(62,0.0054)(66,0.0058)(70,0.0050)(75,0.0054)(80,0.0046)(86,0.0050)(92,0.0042)(100,0.0045)(107,0.0038)(115,0.0040)(123,0.0033)(132,0.0035)(141,0.0029)(151,0.0031)(162,0.0025)(174,0.0027)(186,0.0021)(200,0.0023)(215,0.0018)(230,0.0019)(250,0.0015)(270,0.0016)(290,0.0013)(310,0.0014)(340,0.0011)(370,0.0012)(400,9.5e-4)(440,9e-4)(500,8.5e-4)(85,0.0028)(100,0.0025)(120,0.0022)(140,0.0019)(160,0.0016)(180,0.0014)(200,0.0012)(230,0.0011)(60,0.0038)(40,0.0052)(25,0.0070)(70,0.0033)(110,0.0030)(130,0.0027)(150,0.0023)(260,0.0012)
(400,7.4e-5)(500,7.4e-5)(630,7.4e-5)(790,7.4e-5)(1000,7.4e-5)(1260,7.4e-5)(1580,7.4e-5)(2000,7.4e-5)(2450,7.4e-5)
(320,1.48e-4)(400,1.48e-4)(500,1.48e-4)(630,1.48e-4)(790,1.48e-4)(1000,1.48e-4)(1260,1.48e-4)(1700,1.48e-4)
(400,2.22e-4)(500,2.22e-4)(630,2.22e-4)(790,2.22e-4)(1000,2.22e-4)(1300,2.22e-4)
(350,2.96e-4)(440,2.96e-4)(550,2.96e-4)(700,2.96e-4)(880,2.96e-4)(1000,2.96e-4)
(320,3.7e-4)(400,3.7e-4)(500,3.7e-4)(630,3.7e-4)(800,3.7e-4)(1100,3.7e-4)
(250,4.44e-4)(315,4.44e-4)(400,4.44e-4)(500,4.44e-4)(630,4.44e-4)(800,4.44e-4)(1000,4.44e-4)
(250,5.18e-4)(315,5.18e-4)(400,5.18e-4)(500,5.18e-4)(630,5.18e-4)
(230,5.92e-4)(290,5.92e-4)(365,5.92e-4)(460,5.92e-4)(560,5.92e-4)
(220,6.66e-4)(280,6.66e-4)(350,6.66e-4)(440,6.66e-4)(520,6.66e-4)
(200,7.4e-4)(250,7.4e-4)(315,7.4e-4)(400,7.4e-4)(500,7.4e-4)
(190,8.14e-4)(240,8.14e-4)(300,8.14e-4)(380,8.14e-4)
(180,8.88e-4)(230,8.88e-4)(290,8.88e-4)(360,8.88e-4)};
\addlegendentry{Synthetic}
\addplot[realpts] coordinates {(1,0.063)(2,0.036)(3,0.024)(4,0.0162)(5,0.0126)(6,0.0115)(7,0.0098)(8,0.0085)(9,0.0082)(10,0.0076)(11,0.0088)(12,0.0079)(13,0.0072)(14,0.0083)(15,0.0068)(16,0.0075)(17,0.0080)(18,0.0063)(19,0.0070)(20,0.0058)(21,0.0066)(22,0.0052)(23,0.0060)(24,0.0048)(25,0.0055)(26,0.0045)(27,0.0051)(28,0.0042)(29,0.0049)(30,0.0044)(32,0.0040)(34,0.0046)(36,0.0038)(38,0.0043)(40,0.0036)(42,0.0041)(44,0.0034)(46,0.0039)(48,0.0032)(50,0.0037)(53,0.0031)(56,0.0035)(59,0.0029)(62,0.0034)(65,0.0030)(68,0.0027)(72,0.0032)(76,0.0028)(80,0.0031)(84,0.0026)(88,0.0029)(92,0.0025)(96,0.0028)(100,0.0024)(105,0.0027)(110,0.0022)(115,0.0025)(120,0.0021)(125,0.0024)(130,0.0019)(136,0.0022)(142,0.0018)(148,0.0020)(155,0.0017)(162,0.0019)(170,0.0015)(178,0.0017)(186,0.0014)(195,0.0016)(205,0.0013)(215,0.0015)(225,0.0012)(236,0.0014)(248,0.0011)(260,0.0013)(272,0.0011)(285,0.0012)(300,0.0010)(315,0.0011)(330,9.5e-4)(350,0.0010)(370,0.0013)(390,9.5e-4)(420,0.0012)(450,9e-4)(500,0.00105)(660,8.5e-4)(110,0.0017)(130,0.0015)(160,0.0013)(190,0.0012)(140,0.0026)(170,0.0023)(200,0.0020)(230,0.0018)(260,0.0016)(120,0.0030)(85,0.0018)(95,0.0021)(60,0.0022)(70,0.0020)(45,0.0026)(280,9e-4)(330,0.0012)(220,0.0010)(150,0.0011)(180,0.0010)
(350,7.4e-5)(400,7.4e-5)(447,7.4e-5)(501,7.4e-5)(562,7.4e-5)(631,7.4e-5)(708,7.4e-5)(794,7.4e-5)(891,7.4e-5)(1000,7.4e-5)(1122,7.4e-5)(1259,7.4e-5)(1413,7.4e-5)(1585,7.4e-5)(1778,7.4e-5)(1995,7.4e-5)(2239,7.4e-5)(2800,7.4e-5)(4000,7.4e-5)
(350,1.48e-4)(398,1.48e-4)(447,1.48e-4)(501,1.48e-4)(562,1.48e-4)(631,1.48e-4)(708,1.48e-4)(794,1.48e-4)(891,1.48e-4)(1000,1.48e-4)(1122,1.48e-4)(1259,1.48e-4)(1450,1.48e-4)
(400,2.22e-4)(447,2.22e-4)(501,2.22e-4)(562,2.22e-4)(631,2.22e-4)(708,2.22e-4)(794,2.22e-4)(891,2.22e-4)(1000,2.22e-4)(1122,2.22e-4)(1230,2.22e-4)
(363,2.96e-4)(405,2.96e-4)(455,2.96e-4)(510,2.96e-4)(570,2.96e-4)(640,2.96e-4)(715,2.96e-4)(800,2.96e-4)(930,2.96e-4)
(340,3.7e-4)(380,3.7e-4)(425,3.7e-4)(475,3.7e-4)(530,3.7e-4)(595,3.7e-4)(665,3.7e-4)(745,3.7e-4)(880,3.7e-4)
(310,4.44e-4)(350,4.44e-4)(390,4.44e-4)(440,4.44e-4)(490,4.44e-4)(550,4.44e-4)(615,4.44e-4)(690,4.44e-4)
(290,5.18e-4)(325,5.18e-4)(365,5.18e-4)(410,5.18e-4)(460,5.18e-4)(515,5.18e-4)(580,5.18e-4)(650,5.18e-4)(750,5.18e-4)
(260,5.92e-4)(290,5.92e-4)(325,5.92e-4)(365,5.92e-4)(410,5.92e-4)(460,5.92e-4)(515,5.92e-4)(580,5.92e-4)(650,5.92e-4)(880,5.92e-4)
(260,6.66e-4)(290,6.66e-4)(325,6.66e-4)(365,6.66e-4)(410,6.66e-4)(460,6.66e-4)(510,6.66e-4)
(250,7.4e-4)(280,7.4e-4)(310,7.4e-4)(350,7.4e-4)(390,7.4e-4)(440,7.4e-4)(500,7.4e-4)(560,7.4e-4)
(230,8.14e-4)(260,8.14e-4)(290,8.14e-4)(330,8.14e-4)(370,8.14e-4)(420,8.14e-4)(470,8.14e-4)
(220,8.88e-4)(250,8.88e-4)(280,8.88e-4)(315,8.88e-4)(355,8.88e-4)(400,8.88e-4)(450,8.88e-4)
(210,9.62e-4)(240,9.62e-4)(270,9.62e-4)(300,9.62e-4)(340,9.62e-4)(390,9.62e-4)(470,9.62e-4)
(200,1.04e-3)(230,1.04e-3)(260,1.04e-3)(290,1.04e-3)(330,1.04e-3)(380,1.04e-3)};
\addlegendentry{Python}
\end{axis}
%% (h)
\begin{axis}[xmode=log, ymode=log, anchor=north west, at={(493.5pt,-159.5pt)}, width=125pt, height=112.5pt,
  xmin=0.692, xmax=9333, ymin=6.3e-5, ymax=0.1096,
  xtick={1,10,100,1000}, xticklabels={\tp{0},\tp{1},\tp{2},\tp{3}},
  ytick={1e-4,1e-3,1e-2,1e-1}, yticklabels={\tm{4},\tm{3},\tm{2},\tm{1}},
  legend style={at={(0.952,0.94)}}]
\addplot[syn] coordinates {(2,0.100)(3,0.066)(4,0.047)(5,0.038)(6,0.033)(7,0.027)(8,0.023)(9,0.020)(10,0.018)(11,0.0155)(12,0.015)(13,0.0128)(14,0.0122)(15,0.0108)(16,0.0112)(17,0.0095)(18,0.0098)(19,0.0088)(20,0.0085)(21,0.0082)(22,0.0075)(23,0.0078)(24,0.0068)(25,0.0072)(26,0.0062)(27,0.0066)(28,0.0058)(29,0.0061)(30,0.0054)(32,0.0057)(34,0.0050)(36,0.0052)(38,0.0045)(40,0.0047)(42,0.0041)(44,0.0043)(46,0.0037)(48,0.0039)(50,0.0033)(53,0.0035)(56,0.0030)(59,0.0032)(62,0.0027)(65,0.0029)(69,0.0024)(73,0.0026)(77,0.0021)(81,0.0023)(86,0.0019)(91,0.0020)(96,0.0017)(102,0.0018)(108,0.0015)(114,0.0016)(120,0.0014)(128,0.0013)(136,0.0012)(145,0.0011)(155,0.0010)(165,9.5e-4)(72,6.0e-4)(30,0.0042)(40,0.0035)(60,0.0022)(80,0.0016)(100,0.0013)(120,0.0011)(140,9.5e-4)(45,0.0028)(70,0.0019)(90,0.0014)(110,0.0012)
(180,9.1e-5)(225,9.1e-5)(280,9.1e-5)(350,9.1e-5)(440,9.1e-5)(550,9.1e-5)(690,9.1e-5)(860,9.1e-5)(1080,9.1e-5)(1350,9.1e-5)(1700,9.1e-5)(2120,9.1e-5)(2650,9.1e-5)(3100,9.1e-5)
(110,1.82e-4)(150,1.82e-4)(190,1.82e-4)(240,1.82e-4)(300,1.82e-4)(380,1.82e-4)(480,1.82e-4)(600,1.82e-4)(760,1.82e-4)(950,1.82e-4)(1150,1.82e-4)
(130,2.73e-4)(165,2.73e-4)(210,2.73e-4)(265,2.73e-4)(335,2.73e-4)(420,2.73e-4)(530,2.73e-4)(670,2.73e-4)(850,2.73e-4)
(110,3.64e-4)(140,3.64e-4)(175,3.64e-4)(220,3.64e-4)(280,3.64e-4)(350,3.64e-4)(440,3.64e-4)(540,3.64e-4)
(110,4.55e-4)(140,4.55e-4)(175,4.55e-4)(220,4.55e-4)(280,4.55e-4)(350,4.55e-4)(440,4.55e-4)(560,4.55e-4)
(100,5.46e-4)(127,5.46e-4)(160,5.46e-4)(200,5.46e-4)(255,5.46e-4)(320,5.46e-4)(420,5.46e-4)
(95,6.37e-4)(120,6.37e-4)(150,6.37e-4)(190,6.37e-4)(240,6.37e-4)(300,6.37e-4)
(90,7.28e-4)(115,7.28e-4)(145,7.28e-4)(185,7.28e-4)(240,7.28e-4)
(85,8.19e-4)(108,8.19e-4)(136,8.19e-4)(172,8.19e-4)(220,8.19e-4)
(80,9.1e-4)(100,9.1e-4)(128,9.1e-4)(162,9.1e-4)(205,9.1e-4)
(75,1.0e-3)(95,1.0e-3)(120,1.0e-3)(150,1.0e-3)(190,1.0e-3)};
\addlegendentry{Synthetic}
\addplot[realpts] coordinates {(1,0.053)(2,0.040)(3,0.040)(4,0.039)(5,0.033)(6,0.026)(7,0.021)(8,0.019)(9,0.018)(10,0.013)(11,0.0108)(12,0.0135)(13,0.0138)(14,0.0125)(15,0.0140)(16,0.0098)(17,0.0135)(18,0.0145)(19,0.0115)(20,0.0300)(21,0.025)(22,0.0185)(23,0.0105)(24,0.0120)(25,0.0098)(26,0.0082)(27,0.0145)(28,0.0088)(29,0.0075)(30,0.0092)(31,0.0068)(32,0.0078)(33,0.0062)(34,0.0072)(35,0.0060)(36,0.0052)(38,0.0065)(40,0.0138)(41,0.0055)(43,0.0048)(45,0.0054)(47,0.0040)(49,0.0046)(51,0.0038)(53,0.0032)(55,0.0036)(58,0.0030)(61,0.0034)(64,0.0026)(67,0.0050)(68,0.0044)(70,0.0030)(72,0.0025)(75,0.0022)(78,0.0028)(82,0.0024)(86,0.0020)(90,0.0026)(95,0.0018)(96,0.0029)(100,0.0022)(105,0.0016)(110,0.0021)(115,0.0016)(120,0.0019)(125,0.0014)(130,0.0017)(136,0.0013)(142,0.0015)(150,0.0017)(160,0.0014)(170,0.0011)(180,0.0013)(190,0.0010)(200,0.0012)(218,0.0010)(80,0.0040)(90,0.0035)(60,0.0042)
(192,9.1e-5)(224,9.1e-5)(251,9.1e-5)(282,9.1e-5)(316,9.1e-5)(355,9.1e-5)(398,9.1e-5)(447,9.1e-5)(501,9.1e-5)(562,9.1e-5)(631,9.1e-5)(708,9.1e-5)(794,9.1e-5)(891,9.1e-5)(1000,9.1e-5)(1122,9.1e-5)(1259,9.1e-5)(1500,9.1e-5)(1778,9.1e-5)(2140,9.1e-5)
(200,1.82e-4)(224,1.82e-4)(251,1.82e-4)(282,1.82e-4)(316,1.82e-4)(355,1.82e-4)(398,1.82e-4)(447,1.82e-4)(501,1.82e-4)(562,1.82e-4)(631,1.82e-4)(708,1.82e-4)(794,1.82e-4)(891,1.82e-4)(1050,1.82e-4)
(180,2.73e-4)(200,2.73e-4)(224,2.73e-4)(251,2.73e-4)(282,2.73e-4)(316,2.73e-4)(355,2.73e-4)(398,2.73e-4)(501,2.73e-4)(631,2.73e-4)(800,2.73e-4)(940,2.73e-4)
(180,3.64e-4)(200,3.64e-4)(224,3.64e-4)(251,3.64e-4)(282,3.64e-4)(340,3.64e-4)(500,3.64e-4)(730,3.64e-4)
(170,4.55e-4)(190,4.55e-4)(215,4.55e-4)(240,4.55e-4)(270,4.55e-4)(300,4.55e-4)(350,4.55e-4)(400,4.55e-4)(560,4.55e-4)
(125,5.46e-4)(150,5.46e-4)(170,5.46e-4)(190,5.46e-4)(220,5.46e-4)(260,5.46e-4)(300,5.46e-4)
(160,6.37e-4)(180,6.37e-4)(200,6.37e-4)(230,6.37e-4)(260,6.37e-4)(310,6.37e-4)
(150,7.28e-4)(170,7.28e-4)(195,7.28e-4)(225,7.28e-4)(260,7.28e-4)
(125,8.19e-4)(145,8.19e-4)(170,8.19e-4)(200,8.19e-4)(240,8.19e-4)
(130,9.1e-4)(150,9.1e-4)(175,9.1e-4)(205,9.1e-4)
(110,1.0e-3)(130,1.0e-3)(150,1.0e-3)(180,1.0e-3)(220,1.0e-3)};
\addlegendentry{Spoken English}
\end{axis}
%% labels
\begin{scope}[every node/.style={font=\lf, text=labgray}]
\node at (181,264) {Viewing time length};
\node at (490,265) {Viewing time length};
\node at (802,264) {Viewing time length};
\node at (1112,264) {Viewing time length};
\node at (180,577) {Viewing time length};
\node at (490,577) {Viewing time length};
\node at (802,578) {Viewing time length};
\node at (1112,577) {Viewing time length};
\node[rotate=90] at (17.5,132) {Learner proportion};
\node[rotate=90] at (327.5,124) {Learner proportion};
\node[rotate=90] at (639,129) {Learner proportion};
\node[rotate=90] at (947,124) {Learner proportion};
\node[rotate=90] at (17.5,432) {Learner proportion};
\node[rotate=90] at (327.5,434) {Learner proportion};
\node[rotate=90] at (637.5,430) {Learner proportion};
\node[rotate=90] at (947,422) {Learner proportion};
\end{scope}
\begin{scope}[every node/.style={font=\lf, text=black}]
\node at (157,288) {(a)};
\node at (470,288) {(b)};
\node at (779,288) {(c)};
\node at (1090,288) {(d)};
\node at (157,603) {(e)};
\node at (468,603) {(f)};
\node at (778,603) {(g)};
\node at (1089,603) {(h)};
\end{scope}
\end{tikzpicture}
\end{document}
